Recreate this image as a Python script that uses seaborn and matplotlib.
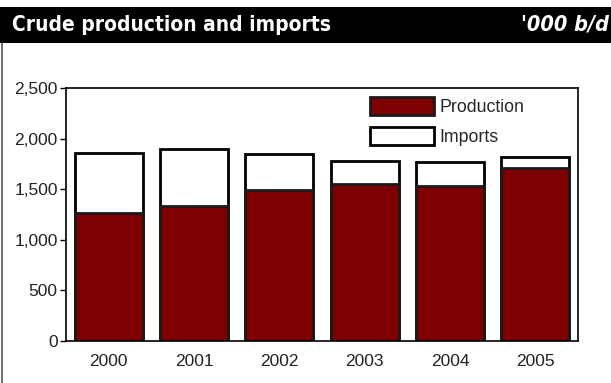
import pandas as pd
import matplotlib.pyplot as plt
import matplotlib.patches as mpatches
from matplotlib.ticker import FuncFormatter
import seaborn as sns

# Data ('000 b/d)
years = ["2000", "2001", "2002", "2003", "2004", "2005"]
production = [1265, 1334, 1492, 1548, 1535, 1713]
imports = [593, 563, 359, 234, 237, 102]

df = pd.DataFrame({"Year": years, "Production": production, "Imports": imports})
df["Total"] = df["Production"] + df["Imports"]

sns.set_style("white")
plt.rcParams["font.family"] = ["Liberation Sans", "DejaVu Sans"]

fig = plt.figure(figsize=(6.11, 3.83), dpi=100)
ax = fig.add_axes([0.108, 0.110, 0.838, 0.660])

# Imports stacked on top: draw totals first (white), production over them
sns.barplot(data=df, x="Year", y="Total", color="white", edgecolor="black",
            linewidth=2, width=0.8, saturation=1, ax=ax)
sns.barplot(data=df, x="Year", y="Production", color="#7f0000", edgecolor="#1a1a1a",
            linewidth=2, width=0.8, saturation=1, ax=ax)

ax.set_ylim(0, 2500)
ax.set_yticks(range(0, 2501, 500))
ax.yaxis.set_major_formatter(FuncFormatter(lambda v, p: f"{v:,.0f}"))
ax.set_xlabel("")
ax.set_ylabel("")
ax.tick_params(axis="y", left=True, length=4, width=1, color="black", labelsize=12.5, labelcolor="#222222", pad=2)
ax.tick_params(axis="x", bottom=False, labelsize=12.5, labelcolor="#222222", pad=6)
for s in ax.spines.values():
    s.set_color("black")
    s.set_linewidth(1.2)

# Legend
handles = [mpatches.Patch(facecolor="#7f0000", edgecolor="#1a1a1a", linewidth=2, label="Production"),
           mpatches.Patch(facecolor="white", edgecolor="black", linewidth=2, label="Imports")]
ax.legend(handles=handles, loc="upper left", bbox_to_anchor=(0.594, 0.965), frameon=False,
          borderpad=0, borderaxespad=0, fontsize=12.8, handlelength=3.6, handleheight=1.2,
          handletextpad=0.3, labelspacing=0.6)

# Header band
fig.patches.append(mpatches.Rectangle((0, 0.888), 1, 0.094, transform=fig.transFigure,
                                      facecolor="black", edgecolor="none"))
fig.text(0.02, 0.935, "Crude production and imports", color="white", fontsize=15,
         fontweight="bold", fontstretch="condensed", family="DejaVu Sans", va="center", ha="left")
fig.text(0.996, 0.935, "'000 b/d", color="white", fontsize=15.5, fontweight="bold",
         fontstyle="italic", fontstretch="condensed", family="DejaVu Sans", va="center", ha="right")

# Left frame line of the panel
fig.lines.append(plt.Line2D([0.004, 0.004], [0, 0.888], transform=fig.transFigure,
                            color="#555555", linewidth=1.2))

fig.savefig("out.png", dpi=100)
